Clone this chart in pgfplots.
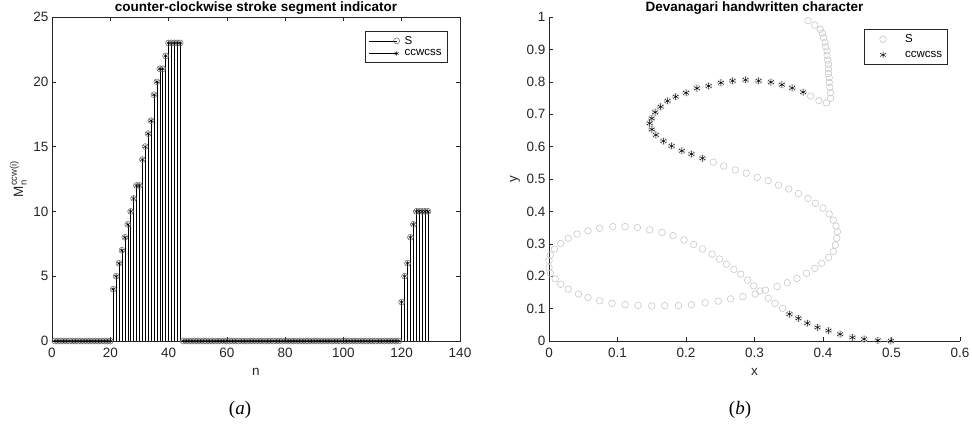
\documentclass[border=0pt]{standalone}
\usepackage{pgfplots}
\pgfplotsset{compat=1.18}
\usepackage{pgfplotstable}
\usepackage{fontspec}
\usepackage{amsmath}
\setmainfont{Liberation Sans}
\newfontfamily\seriffont{Liberation Serif}

\pgfplotstableread{
n v
1 0
2 0
3 0
4 0
5 0
6 0
7 0
8 0
9 0
10 0
11 0
12 0
13 0
14 0
15 0
16 0
17 0
18 0
19 0
20 0
21 4
22 5
23 6
24 7
25 8
26 9
27 10
28 11
29 12
30 12
31 14
32 15
33 16
34 17
35 19
36 20
37 21
38 21
39 22
40 23
41 23
42 23
43 23
44 23
45 0
46 0
47 0
48 0
49 0
50 0
51 0
52 0
53 0
54 0
55 0
56 0
57 0
58 0
59 0
60 0
61 0
62 0
63 0
64 0
65 0
66 0
67 0
68 0
69 0
70 0
71 0
72 0
73 0
74 0
75 0
76 0
77 0
78 0
79 0
80 0
81 0
82 0
83 0
84 0
85 0
86 0
87 0
88 0
89 0
90 0
91 0
92 0
93 0
94 0
95 0
96 0
97 0
98 0
99 0
100 0
101 0
102 0
103 0
104 0
105 0
106 0
107 0
108 0
109 0
110 0
111 0
112 0
113 0
114 0
115 0
116 0
117 0
118 0
119 0
120 3
121 5
122 6
123 8
124 9
125 10
126 10
127 10
128 10
129 10
}\stemdata

\pgfplotstableread{
x y
0.364 1.003
0.378 0.989
0.388 0.975
0.396 0.962
0.399 0.950
0.401 0.936
0.403 0.922
0.404 0.908
0.406 0.895
0.406 0.881
0.407 0.867
0.408 0.854
0.408 0.840
0.408 0.826
0.409 0.813
0.409 0.798
0.410 0.783
0.411 0.766
0.411 0.749
0.405 0.735
0.394 0.742
0.382 0.756
0.371 0.768
0.355 0.781
0.340 0.791
0.324 0.799
0.306 0.803
0.287 0.806
0.268 0.803
0.251 0.797
0.233 0.787
0.216 0.780
0.200 0.766
0.185 0.754
0.173 0.741
0.163 0.723
0.155 0.706
0.150 0.687
0.147 0.672
0.150 0.653
0.156 0.636
0.167 0.617
0.179 0.602
0.194 0.587
0.208 0.577
0.224 0.564
0.240 0.552
0.255 0.540
0.272 0.528
0.288 0.518
0.304 0.505
0.320 0.495
0.335 0.481
0.350 0.469
0.364 0.455
0.378 0.440
0.389 0.425
0.400 0.410
0.409 0.392
0.415 0.373
0.419 0.355
0.421 0.337
0.420 0.317
0.418 0.296
0.415 0.276
0.408 0.258
0.398 0.240
0.388 0.224
0.376 0.209
0.362 0.193
0.348 0.180
0.333 0.168
0.316 0.157
0.301 0.145
0.283 0.137
0.265 0.130
0.247 0.123
0.228 0.118
0.208 0.112
0.189 0.109
0.169 0.109
0.150 0.108
0.130 0.110
0.111 0.112
0.092 0.116
0.074 0.124
0.057 0.134
0.043 0.145
0.028 0.160
0.017 0.175
0.009 0.192
0.002 0.209
0.000 0.227
0.000 0.248
0.002 0.265
0.008 0.284
0.017 0.301
0.028 0.317
0.041 0.330
0.057 0.340
0.074 0.348
0.093 0.353
0.111 0.353
0.129 0.350
0.147 0.343
0.165 0.335
0.181 0.325
0.197 0.312
0.211 0.298
0.224 0.284
0.238 0.268
0.249 0.253
0.259 0.237
0.270 0.221
0.280 0.206
0.290 0.188
0.299 0.170
0.308 0.154
0.320 0.132
0.330 0.116
0.341 0.101
0.351 0.083
0.364 0.070
0.377 0.055
0.392 0.042
0.408 0.032
0.425 0.021
0.443 0.011
0.460 0.006
0.480 0.002
0.499 0.000
}\sdata

\pgfplotstableread{
x y
0.371 0.768
0.355 0.781
0.340 0.791
0.324 0.799
0.306 0.803
0.287 0.806
0.268 0.803
0.251 0.797
0.233 0.787
0.216 0.780
0.200 0.766
0.185 0.754
0.173 0.741
0.163 0.723
0.155 0.706
0.150 0.687
0.147 0.672
0.150 0.653
0.156 0.636
0.167 0.617
0.179 0.602
0.194 0.587
0.208 0.577
0.224 0.564
0.351 0.083
0.364 0.070
0.377 0.055
0.392 0.042
0.408 0.032
0.425 0.021
0.443 0.011
0.460 0.006
0.480 0.002
0.499 0.000
}\ccwdata

\definecolor{axcol}{RGB}{38,38,38}
\definecolor{lightc}{RGB}{200,200,200}
\definecolor{midc}{RGB}{100,100,100}

\pgfplotsset{
  mystyle/.style={
    scale only axis,
    tick align=inside,
    major tick length=4pt,
    axis line style={axcol, line width=0.5pt},
    tick style={axcol, line width=0.5pt},
    ticklabel style={font=\fontsize{13.5}{15}\selectfont, text=axcol},
    xticklabel shift=4pt,
    /pgf/number format/assume math mode=true,
    label style={font=\fontsize{13.5}{15}\selectfont, text=axcol},
    xlabel style={yshift=-3pt},
    title style={font=\bfseries\fontsize{13.5}{15}\selectfont, yshift=-7pt},
    legend style={draw=axcol, fill=white, font=\fontsize{11.5}{13}\selectfont,
      cells={anchor=west}, inner sep=3pt, row sep=0pt},
  }
}

\begin{document}
\begin{tikzpicture}
\useasboundingbox (0,0) rectangle (972pt,427pt);
\begin{axis}[mystyle,
  at={(52pt,86pt)}, anchor=south west,
  width=408pt, height=324pt,
  xmin=0, xmax=140, ymin=0, ymax=25,
  xtick={0,20,...,140}, ytick={0,5,...,25},
  title={counter-clockwise stroke segment indicator},
  xlabel={n},
  ylabel={$\text{M}_{\text{n}}^{\text{ccw(i)}}$},
  legend style={at={(0.968,0.957)}, anchor=north east},
  legend image code/.code={\draw[sharp plot,mark repeat=2,mark phase=2] plot coordinates {(0pt,0pt) (28pt,0pt)}; \path[draw=none] (0pt,0pt) -- (34pt,0pt);},
]
\addplot+[ycomb, draw=black, line width=0.5pt, mark=o, mark size=3pt,
  mark options={draw=midc, line width=0.5pt, fill=none}] table[x=n,y=v] {\stemdata};
\addlegendentry{S}
\addplot+[ycomb, draw=black, line width=0.5pt, mark=asterisk, mark size=2.2pt,
  mark options={draw=black, line width=0.45pt}] table[x=n,y=v] {\stemdata};
\addlegendentry{ccwcss}
\end{axis}

\begin{axis}[mystyle,
  at={(549pt,86pt)}, anchor=south west,
  width=411pt, height=324pt,
  axis lines*=left,
  xmin=0, xmax=0.6, ymin=0, ymax=1,
  xtick={0,0.1,...,0.6}, ytick={0,0.1,...,1},
  xticklabels={0,0.1,0.2,0.3,0.4,0.5,0.6},
  yticklabels={0,0.1,0.2,0.3,0.4,0.5,0.6,0.7,0.8,0.9,1},
  title={Devanagari handwritten character},
  xlabel={x}, ylabel={y},
  legend style={at={(0.969,0.962)}, anchor=north east, row sep=3pt},
  legend image code/.code={\path[draw=none] (0pt,0pt) -- (36pt,0pt); \draw[draw=none] plot coordinates {(16pt,0pt)};},
]
\addplot[only marks, mark=o, mark size=3.3pt, mark options={draw=lightc, line width=0.6pt}] table[x=x,y=y] {\sdata};
\addlegendentry{S}
\addplot[only marks, mark=asterisk, mark size=3.3pt, mark options={draw=black, line width=0.5pt}] table[x=x,y=y] {\ccwdata};
\addlegendentry{ccwcss}
\end{axis}

\node[font=\seriffont\fontsize{19}{22}\selectfont] at (240pt,17pt) {(\textit{a})};
\node[font=\seriffont\fontsize{19}{22}\selectfont] at (740pt,17pt) {(\textit{b})};
\end{tikzpicture}
\end{document}
